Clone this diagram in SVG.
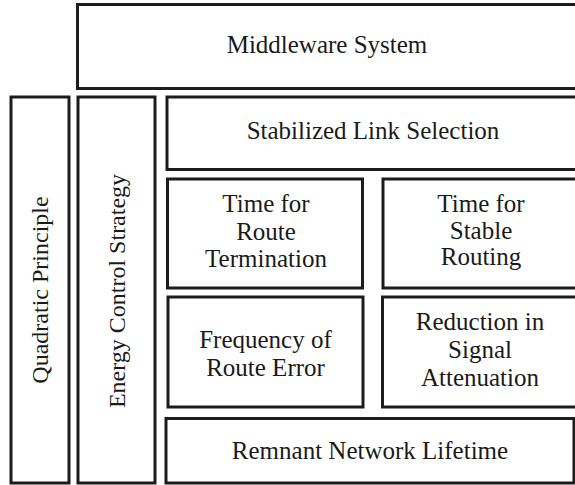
<svg xmlns="http://www.w3.org/2000/svg" width="575" height="485" viewBox="0 0 575 485" font-family="Liberation Serif, Times New Roman, serif">
  <style>
    .box { fill: #ffffff; stroke: #1c1c1c; stroke-width: 3; }
    .lbl { fill: #1a1a1a; text-anchor: middle; font-size: 25px; }
    .vlbl { fill: #1a1a1a; text-anchor: middle; font-size: 24px; }
  </style>
  <rect width="575" height="485" fill="#ffffff"/>

  <!-- top bar -->
  <g id="middleware-system">
    <rect class="box" x="77.5" y="4.5" width="502" height="84"/>
    <text class="lbl" x="327" y="53" style="font-family: 'Liberation Serif', 'Times New Roman', serif !important">Middleware System</text>
  </g>

  <!-- vertical side columns -->
  <g id="quadratic-principle">
    <rect class="box" x="11" y="97" width="58" height="386"/>
    <text class="vlbl" transform="translate(47.5 290) rotate(-90)" style="font-family: 'Liberation Serif', 'Times New Roman', serif !important">Quadratic Principle</text>
  </g>

  <g id="energy-control-strategy">
    <rect class="box" x="78" y="97" width="77" height="386"/>
    <text class="vlbl" transform="translate(124.5 291) rotate(-90)" style="font-family: 'Liberation Serif', 'Times New Roman', serif !important">Energy Control Strategy</text>
  </g>

  <!-- inner stack -->
  <g id="stabilized-link-selection">
    <rect class="box" x="167" y="97" width="412" height="72.5"/>
    <text class="lbl" x="373" y="139" style="font-family: 'Liberation Serif', 'Times New Roman', serif !important">Stabilized Link Selection</text>
  </g>

  <g id="time-for-route-termination">
    <rect class="box" x="167.5" y="179" width="195" height="109"/>
    <text class="lbl" x="266" y="212" style="font-family: 'Liberation Serif', 'Times New Roman', serif !important">Time for</text>
    <text class="lbl" x="266" y="240" style="font-family: 'Liberation Serif', 'Times New Roman', serif !important">Route</text>
    <text class="lbl" x="266" y="267" style="font-family: 'Liberation Serif', 'Times New Roman', serif !important">Termination</text>
  </g>

  <g id="time-for-stable-routing">
    <rect class="box" x="383" y="179" width="196" height="109"/>
    <text class="lbl" x="481" y="212" style="font-family: 'Liberation Serif', 'Times New Roman', serif !important">Time for</text>
    <text class="lbl" x="481" y="239" style="font-family: 'Liberation Serif', 'Times New Roman', serif !important">Stable</text>
    <text class="lbl" x="481" y="265" style="font-family: 'Liberation Serif', 'Times New Roman', serif !important">Routing</text>
  </g>

  <g id="frequency-of-route-error">
    <rect class="box" x="168" y="297" width="195" height="110"/>
    <text class="lbl" x="265.5" y="348" style="font-family: 'Liberation Serif', 'Times New Roman', serif !important">Frequency of</text>
    <text class="lbl" x="265.5" y="376" style="font-family: 'Liberation Serif', 'Times New Roman', serif !important">Route Error</text>
  </g>

  <g id="reduction-in-signal-attenuation">
    <rect class="box" x="382.5" y="297" width="197" height="110"/>
    <text class="lbl" x="480" y="330" style="font-family: 'Liberation Serif', 'Times New Roman', serif !important">Reduction in</text>
    <text class="lbl" x="480" y="358" style="font-family: 'Liberation Serif', 'Times New Roman', serif !important">Signal</text>
    <text class="lbl" x="480" y="386" style="font-family: 'Liberation Serif', 'Times New Roman', serif !important">Attenuation</text>
  </g>

  <g id="remnant-network-lifetime">
    <rect class="box" x="166" y="418.5" width="408" height="64.5"/>
    <text class="lbl" x="370" y="459" style="font-family: 'Liberation Serif', 'Times New Roman', serif !important">Remnant Network Lifetime</text>
  </g>
</svg>
